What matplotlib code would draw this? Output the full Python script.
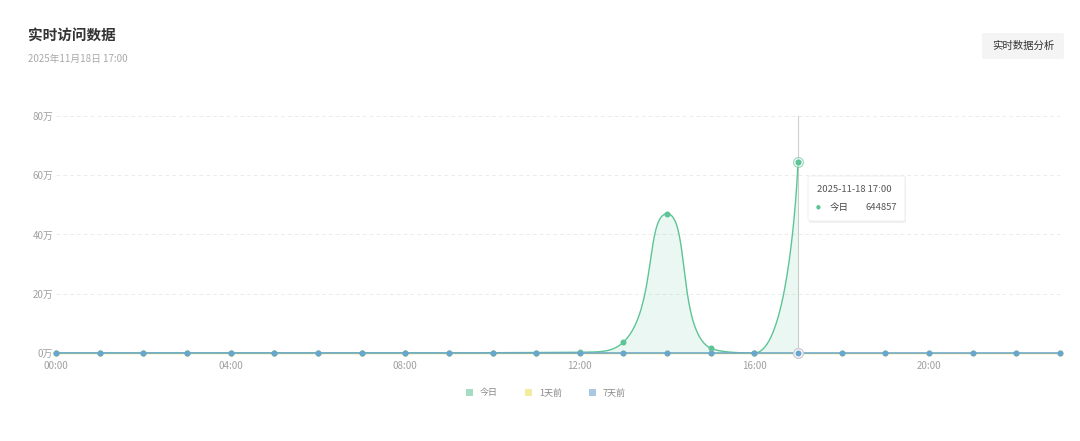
import numpy as np
import matplotlib
matplotlib.use("Agg")
import matplotlib.pyplot as plt
from matplotlib.patches import FancyBboxPatch, Patch

plt.rcParams['font.family'] = ['Noto Sans CJK SC', 'DejaVu Sans']

# ---------------- data ----------------
hours = list(range(24))
hour_labels = [f"{h:02d}:00" for h in hours]
today = [0, 0, 0, 0, 0, 0, 0, 0, 0, 0, 1000, 1500, 2500, 37000, 470000, 16000, 0, 644857]
one_day_ago = [0] * 24
seven_days_ago = [0] * 24
series_names = ["今日", "1天前", "7天前"]
y_ticks = [0, 200000, 400000, 600000, 800000]
y_tick_labels = ["0万", "20万", "40万", "60万", "80万"]
x_tick_idx = [0, 4, 8, 12, 16, 20]
title = "实时访问数据"
subtitle = "2025年11月18日 17:00"
button_text = "实时数据分析"
tooltip_date = "2025-11-18 17:00"
hover_idx = 17

GREEN = '#5cc497'
YELLOW = '#ecd95a'
BLUE = '#66a6d0'
GREEN_L = '#a6dcc1'
YELLOW_L = '#f3ec9e'
BLUE_L = '#a9c8e4'
GRAY = '#a0a0a0'

W, H = 1080, 441
fig = plt.figure(figsize=(W / 100, H / 100), dpi=100)
fig.patch.set_facecolor('white')
ax = fig.add_axes([56 / W, (H - 353) / H, (1060 - 56) / W, 237 / H])
ax.set_xlim(0, 23)
ax.set_ylim(0, 800000)
for s in ax.spines.values():
    s.set_visible(False)
ax.set_yticks(y_ticks)
ax.set_yticklabels(y_tick_labels)
ax.set_xticks(x_tick_idx)
ax.set_xticklabels([hour_labels[i] for i in x_tick_idx])
ax.tick_params(length=0, labelsize=7, colors=GRAY, pad=6)
ax.tick_params(axis='y', pad=2)
for yv in y_ticks[1:]:
    ax.axhline(yv, color='#ececec', lw=0.7, ls=(0, (4, 3)), zorder=0)


def clamp(v, a, b):
    return max(min(v, max(a, b)), min(a, b))


def smooth_curve(xs, ys, smooth=0.5, n=40):
    pts = ax.transData.transform(np.column_stack([xs, ys]))
    px, py = pts[:, 0], pts[:, 1]
    m = len(px)
    cp_out = [None] * m
    cp_in = [None] * m
    for i in range(m):
        x, y = px[i], py[i]
        if i == 0 or i == m - 1:
            cp_in[i] = (x, y)
            cp_out[i] = (x, y)
            continue
        x0, y0 = px[i - 1], py[i - 1]
        x1, y1 = px[i + 1], py[i + 1]
        vx, vy = x1 - x0, y1 - y0
        lp = np.hypot(x - x0, y - y0)
        ln = np.hypot(x1 - x, y1 - y)
        r = ln / (ln + lp)
        nx = clamp(x + vx * smooth * r, x, x1)
        ny = clamp(y + vy * smooth * r, y, y1)
        vx, vy = nx - x, ny - y
        cx = clamp(x - vx * lp / ln, x0, x)
        cy = clamp(y - vy * lp / ln, y0, y)
        vx, vy = x - cx, y - cy
        cp_in[i] = (cx, cy)
        cp_out[i] = (x + vx * ln / lp, y + vy * ln / lp)
    out = []
    t = np.linspace(0, 1, n)[:, None]
    for i in range(m - 1):
        p0 = np.array([px[i], py[i]])
        p1 = np.array(cp_out[i])
        p2 = np.array(cp_in[i + 1])
        p3 = np.array([px[i + 1], py[i + 1]])
        seg = (1 - t) ** 3 * p0 + 3 * (1 - t) ** 2 * t * p1 + 3 * (1 - t) * t ** 2 * p2 + t ** 3 * p3
        out.append(seg if i == 0 else seg[1:])
    out = np.vstack(out)
    d = ax.transData.inverted().transform(out)
    return d[:, 0], d[:, 1]


tx = np.array(hours[:len(today)], dtype=float)
ty = np.array(today, dtype=float)
cx, cy = smooth_curve(tx, ty)
ax.fill_between(cx, cy, 0, color=GREEN, alpha=0.12, lw=0, zorder=2)
ax.plot(cx, cy, color=GREEN, lw=1.0, zorder=3)
ax.plot(tx, ty, 'o', color=GREEN, ms=3.3, zorder=3.5)

ax.plot(hours, one_day_ago, '-o', color=YELLOW, lw=1.0, ms=3.3, zorder=4)
ax.plot(hours, seven_days_ago, '-o', color=BLUE, lw=1.1, ms=3.3, zorder=5)

# hover axis pointer and emphasis markers
ax.axvline(hover_idx, color='#cfcfcf', lw=0.8, zorder=1)
ax.plot([hover_idx], [today[hover_idx]], 'o', ms=7, mfc='white', mec=GREEN, mew=0.9, alpha=0.6, zorder=6)
ax.plot([hover_idx], [today[hover_idx]], 'o', ms=3.3, color=GREEN, zorder=6.5)
ax.plot([hover_idx], [seven_days_ago[hover_idx]], 'o', ms=7, mfc='white', mec='#c8c8d0', mew=0.9, zorder=6)
ax.plot([hover_idx], [seven_days_ago[hover_idx]], 'o', ms=3.3, color=BLUE, zorder=6.5)
for ln in ax.lines:
    ln.set_clip_on(False)

# title and subtitle
fig.text(28 / W, 1 - 35 / H, title, fontsize=10.5, fontweight='bold', color='#333333', va='center', ha='left')
fig.text(28 / W, 1 - 59 / H, subtitle, fontsize=7, color='#a8a8a8', va='center', ha='left')

# button
btn = FancyBboxPatch((982 / W, 1 - 59 / H), 82 / W, 26 / H,
                     boxstyle="round,pad=0,rounding_size=0.004",
                     transform=fig.transFigure, facecolor='#f4f4f5', edgecolor='none')
fig.add_artist(btn)
fig.text(1023 / W, 1 - 46 / H, button_text, fontsize=7.5, color='#333333', va='center', ha='center', fontweight='medium')

# tooltip
shadow = FancyBboxPatch((809 / W, 1 - 223 / H), 97 / W, 46 / H,
                        boxstyle="round,pad=0,rounding_size=0.003",
                        transform=fig.transFigure, facecolor='#000000', alpha=0.06, edgecolor='none')
fig.add_artist(shadow)
tip = FancyBboxPatch((808 / W, 1 - 221 / H), 97 / W, 45 / H,
                     boxstyle="round,pad=0,rounding_size=0.003",
                     transform=fig.transFigure, facecolor='white', edgecolor='#eeeeee', lw=0.6)
fig.add_artist(tip)
fig.text(817 / W, 1 - 189 / H, tooltip_date, fontsize=6.8, color='#555555', va='center', ha='left')
fig.text(818 / W, 1 - 207 / H, '●', fontsize=4, color=GREEN, va='center', ha='center', family='DejaVu Sans')
fig.text(830 / W, 1 - 207 / H, series_names[0], fontsize=6.8, color='#444444', va='center', ha='left')
fig.text(897 / W, 1 - 207 / H, str(today[hover_idx]), fontsize=6.8, color='#555555', va='center', ha='right')

# legend
handles = [Patch(facecolor=c, edgecolor='none') for c in (GREEN_L, YELLOW_L, BLUE_L)]
leg = fig.legend(handles, series_names, loc='center', bbox_to_anchor=(0.5055, 1 - 393 / H),
                 ncol=3, frameon=False, fontsize=6.5, handlelength=0.78, handleheight=0.78,
                 handletextpad=0.75, columnspacing=3.0, labelcolor='#888888')

fig.savefig('out.png', dpi=100, facecolor='white')
